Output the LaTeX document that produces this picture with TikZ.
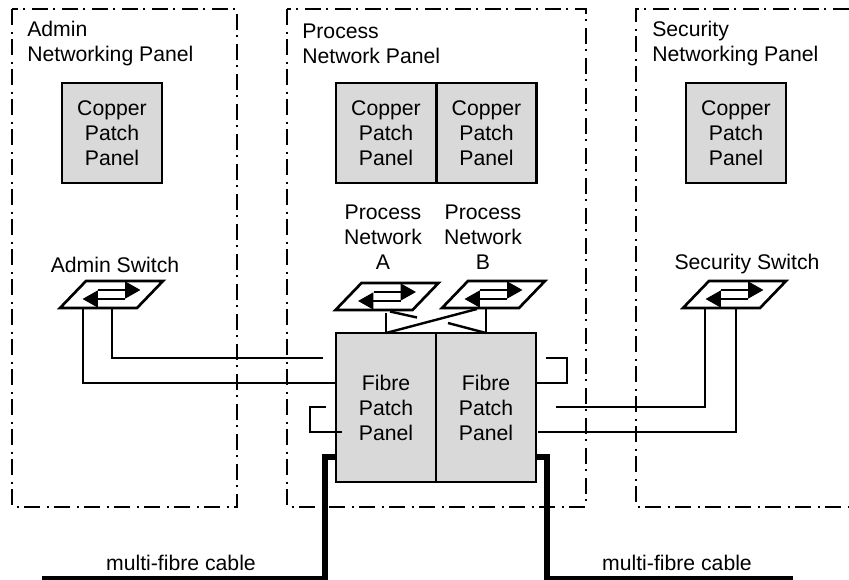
\documentclass[tikz,border=0pt]{standalone}
\usepackage{fontspec}
\setmainfont{Liberation Sans}
\usetikzlibrary{arrows.meta}
\definecolor{panelgrey}{HTML}{D9D9D9}
\tikzset{
    zone/.style={line width=1.5pt,dash pattern=on 12pt off 5pt on 1.5pt off 4pt},
    wire/.style={line width=1.8pt},
    cable/.style={line width=3.9pt},
    patchbox/.style={draw,line width=1.7pt,fill=panelgrey,align=center,inner sep=0pt,outer sep=0pt},
    copper/.style={patchbox,minimum width=75pt,minimum height=75pt},
    fibre/.style={patchbox,minimum width=75pt,minimum height=111.75pt},
    switchbox/.style={minimum width=77.25pt,minimum height=20.25pt,inner sep=0pt,outer sep=0pt},
    switchedge/.style={draw,line width=2pt,fill=white},
    flow/.style={line width=1.8pt,-{Triangle[length=11.5pt,width=12.5pt]}},
    lab/.style={align=center,inner sep=0pt}
}
\begin{document}
\begin{tikzpicture}[x=0.75pt,y=-0.75pt,font=\fontsize{15.9}{18.75}\selectfont]
    \useasboundingbox (0,0) rectangle (849,580);
    % dash-dotted panels
    \draw[zone] (12,9) rectangle (237,507);
    \draw[zone] (287,9) rectangle (586,507);
    \draw[zone] (849,9)--(636,9)--(636,507)--(849,507);
    \node[lab,anchor=west,align=left] (adminTitle) at (27,44) {Admin\\Networking Panel};
    \node[lab,anchor=west,align=left] (processTitle) at (302,43.5) {Process\\Network Panel};
    \node[lab,anchor=west,align=left] (securityTitle) at (652,44) {Security\\Networking Panel};

    \node[copper] (copperAdmin) at (112,133) {Copper\\Patch\\Panel};
    \node[copper] (copperA) at (386,133) {Copper\\Patch\\Panel};
    \node[copper] (copperB) at (486.5,133) {Copper\\Patch\\Panel};
    \node[copper] (copperSecurity) at (736,133) {Copper\\Patch\\Panel};

    \node[lab] (adminLabel) at (115,265) {Admin Switch};
    \node[lab] (labelA) at (383,237) {Process\\Network\\A};
    \node[lab] (labelB) at (483,237) {Process\\Network\\B};
    \node[lab] (securityLabel) at (747,264) {Security Switch};

    % coordinates where a line stops short or turns
    \coordinate (adminStop) at (323,358);
    \coordinate (loopLeftTop) at (326,407);
    \coordinate (loopLeftBend) at (310,432);
    \coordinate (loopLeftEnd) at (342,432);
    \coordinate (loopRightTop) at (546,358);
    \coordinate (loopRightBend) at (567,383);
    \coordinate (securityStart) at (556,407);
    \coordinate (cableLeft) at (42,579);
    \coordinate (cableLeftBend) at (325,457);
    \coordinate (cableRight) at (793,579);
    \coordinate (cableRightBend) at (547,457);

    % multi-fibre cables go under the boxes
    \draw[cable] (cableLeft)-|(cableLeftBend)--(336,457);
    \draw[cable] (cableRight)-|(cableRightBend)--(536,457);

    \node[fibre] (fibreLeft) at (386,407.5) {Fibre\\Patch\\Panel};
    \node[fibre] (fibreRight) at (486,407.5) {Fibre\\Patch\\Panel};

    \foreach \name/\x/\y in {swAdmin/111.5/294.5,swA/387/296.5,swB/493.5/294.5,swSecurity/734.5/294.5}
    {
        \node[switchbox] (\name) at (\x,\y) {};
        \draw[switchedge] ([shift={(-51.5,13.5)}]\name.center)--([shift={(25.5,13.5)}]\name.center)
            --([shift={(51.5,-13.5)}]\name.center)--([shift={(-25.5,-13.5)}]\name.center)--cycle;
        \draw[flow] ([shift={(-13.5,-4.5)}]\name.center)--([shift={(29,-4.5)}]\name.center);
        \draw[flow] ([shift={(13.5,4.5)}]\name.center)--([shift={(-29,4.5)}]\name.center);
    }

    \draw[wire] ([shift={(-28.5,13.5)}]swAdmin.center)|-([shift={(0,-24.5)}]fibreLeft.west);
    \draw[wire] ([shift={(0.5,13.5)}]swAdmin.center)|-(adminStop);
    \draw[wire] (loopLeftTop)-|(loopLeftBend)--(loopLeftEnd);
    \draw[wire] (loopRightTop)-|(loopRightBend)--([shift={(0,-24.5)}]fibreRight.east);
    \draw[wire] ([shift={(-1,16.5)}]swA.center)--(fibreLeft.north);
    \draw[wire] ([shift={(-7.5,13.5)}]swB.center)--(fibreRight.north);
    \draw[wire] (fibreLeft.north)--([shift={(-16.5,14.5)}]swB.center);
    \draw[wire] ([shift={(3,15)}]swA.center)--([shift={(30,21)}]swA.center);
    \draw[wire] ([shift={(-45.5,28.5)}]swB.center)--(fibreRight.north);
    \draw[wire] ([shift={(-29.5,13.5)}]swSecurity.center)|-(securityStart);
    \draw[wire] ([shift={(1.5,13.5)}]swSecurity.center)|-([shift={(2,24.5)}]fibreRight.east);

    \node[lab] (cableLabelLeft) at (181,563) {multi-fibre cable};
    \node[lab] (cableLabelRight) at (677,563) {multi-fibre cable};
\end{tikzpicture}
\end{document}
